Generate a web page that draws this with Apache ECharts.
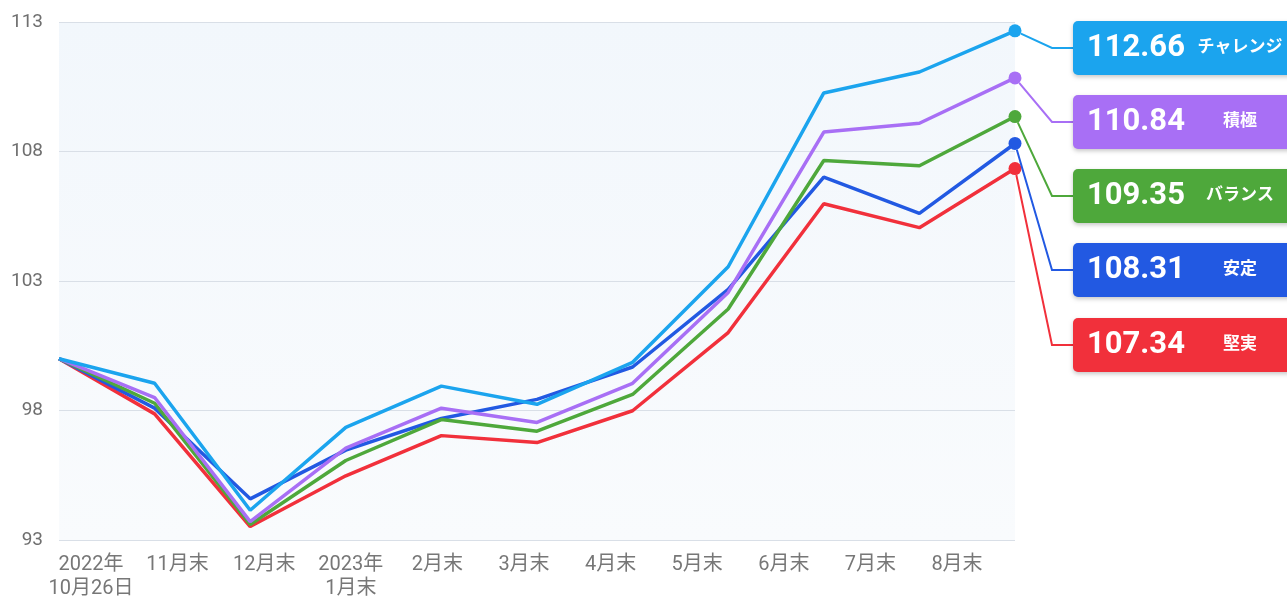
<!DOCTYPE html>
<html>
<head>
<meta charset="utf-8">
<script src="https://cdn.jsdelivr.net/npm/echarts@6/dist/echarts.min.js"></script>
<style>
html,body{margin:0;padding:0;background:#fff;}
#chart{width:1287px;height:601px;}
</style>
</head>
<body>
<div id="chart"></div>
<script>
const categories = ['2022年\n10月26日','11月末','12月末','2023年\n1月末','2月末','3月末','4月末','5月末','6月末','7月末','8月末'];
const yTicks = [93, 98, 103, 108, 113];
const seriesNames = ['チャレンジ','積極','バランス','安定','堅実'];
const challenge = [100, 99.05, 94.15, 97.35, 98.94, 98.24, 99.86, 103.55, 110.26, 111.07, 112.66];
const sekkyoku  = [100, 98.50, 93.71, 96.55, 98.09, 97.54, 99.05, 102.56, 108.75, 109.09, 110.84];
const balance   = [100, 98.28, 93.60, 96.07, 97.65, 97.20, 98.62, 101.92, 107.65, 107.45, 109.35];
const antei     = [100, 98.09, 94.59, 96.47, 97.69, 98.43, 99.68, 102.68, 107.01, 105.61, 108.31];
const kenjitsu  = [100, 97.87, 93.52, 95.48, 97.03, 96.76, 97.99, 101.01, 105.98, 105.06, 107.34];

const values = [challenge, sekkyoku, balance, antei, kenjitsu];
const colors = ['#1ba4ee', '#a86ff5', '#4ea83b', '#2259e2', '#f1303b'];
const labelY = [48, 122, 196, 270, 345];
const FONT = "Roboto, 'Noto Sans CJK JP', sans-serif";

const chart = echarts.init(document.getElementById('chart'), null, {renderer: 'canvas'});

function makeSeries(i) {
  const arr = values[i];
  const data = arr.map((v, k) => {
    if (k === arr.length - 1) {
      return {
        value: v,
        symbol: 'circle',
        symbolSize: 13,
        label: {
          show: true,
          position: 'right',
          formatter: '{v|' + v.toFixed(2) + '}{n|' + seriesNames[i] + '}',
          backgroundColor: colors[i],
          borderRadius: 5,
          padding: [10, 12, 10, 14],
          shadowBlur: 4,
          shadowColor: 'rgba(0,0,0,0.22)',
          shadowOffsetY: 2,
          rich: {
            v: {fontSize: 31, fontWeight: 'bold', color: '#fff', width: 108, lineHeight: 34, fontFamily: FONT},
            n: {fontSize: 17, fontWeight: 'bold', color: '#fff', width: 90, align: 'center', lineHeight: 34, fontFamily: FONT}
          }
        }
      };
    }
    return {value: v, symbol: 'none'};
  });
  return {
    name: seriesNames[i],
    type: 'line',
    xAxisIndex: 0,
    yAxisIndex: 0,
    data: data,
    showSymbol: true,
    symbol: 'none',
    lineStyle: {color: colors[i], width: 3.5},
    itemStyle: {color: colors[i]},
    z: 10 - i,
    labelLine: {show: true, length2: 21, lineStyle: {color: colors[i], width: 2}},
    labelLayout: function () {
      return {x: 1073, y: labelY[i], align: 'left', verticalAlign: 'middle'};
    }
  };
}

const option = {
  animation: false,
  backgroundColor: '#ffffff',
  grid: [
    {left: 59, right: 272, top: 22, bottom: 61, show: true, borderWidth: 0,
     backgroundColor: {type: 'linear', x: 0, y: 0, x2: 0, y2: 1,
       colorStops: [{offset: 0, color: '#f2f7fc'}, {offset: 1, color: '#f9fbfd'}]}},
    {left: 47.7, right: 286.7, top: 22, bottom: 61, show: false}
  ],
  xAxis: [
    {type: 'category', gridIndex: 0, data: categories, boundaryGap: false,
     axisLine: {show: false}, axisTick: {show: false}, axisLabel: {show: false}, splitLine: {show: false}},
    {type: 'category', gridIndex: 1, data: categories, boundaryGap: true,
     axisLine: {show: false}, axisTick: {show: false}, splitLine: {show: false},
     axisLabel: {show: true, interval: 0, color: '#777', fontSize: 20, lineHeight: 24, margin: 16, fontFamily: FONT}}
  ],
  yAxis: [
    {type: 'value', gridIndex: 0, min: yTicks[0], max: yTicks[yTicks.length - 1], interval: 5,
     axisLine: {show: false}, axisTick: {show: false},
     axisLabel: {color: '#6f6f6f', fontSize: 19, margin: 16, fontFamily: FONT},
     splitLine: {show: true, lineStyle: {color: '#d9dfe7', width: 1}}},
    {type: 'value', gridIndex: 1, min: 93, max: 113, show: false}
  ],
  series: [0, 1, 2, 3, 4].map(makeSeries)
};
chart.setOption(option);
</script>
</body>
</html>
